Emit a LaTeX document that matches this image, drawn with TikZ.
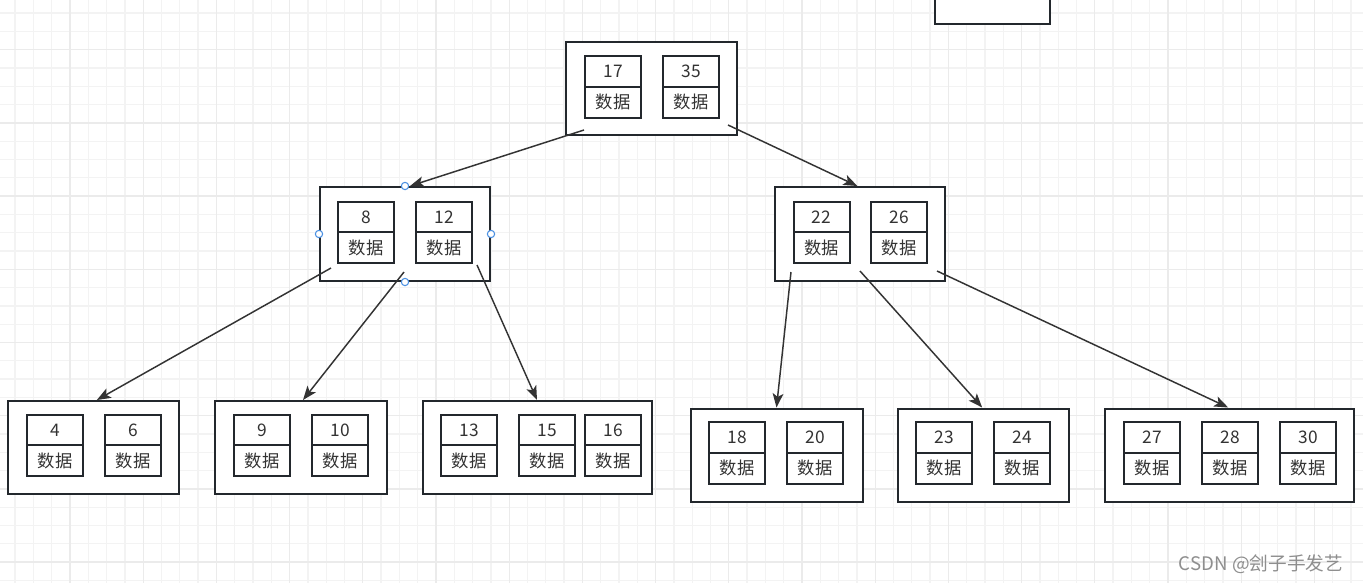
\documentclass[tikz,border=0pt]{standalone}
\usepackage{fontspec}
\setmainfont{Noto Sans CJK SC}
\usetikzlibrary{positioning,arrows.meta}
\definecolor{gridminor}{HTML}{F3F3F3}
\definecolor{gridmajor}{HTML}{EBEBEB}
\definecolor{boxline}{HTML}{23282D}
\definecolor{linkline}{HTML}{333333}
\definecolor{handleblue}{HTML}{4A90E2}
\definecolor{marktext}{HTML}{8E8E8E}
\begin{document}
\begin{tikzpicture}[x=0.75pt,y=-0.75pt,
	outerbox/.style={draw=boxline,line width=1.5pt,fill=white,minimum width=#1,minimum height=69.75pt,inner sep=0pt},
	outerbox/.default=128.25pt,
	keynum/.style={draw=boxline,line width=1.5pt,minimum width=42pt,minimum height=23pt,inner sep=0pt,outer sep=0pt,text=linkline,font=\fontsize{13}{15}\selectfont},
	keydat/.style={keynum},
	link/.style={draw=linkline,line width=1.1pt,-{Stealth[length=10.5pt,width=8pt,inset=2.5pt]}},
	handle/.style={draw=handleblue,line width=0.8pt,fill=white,circle,inner sep=0pt,minimum size=5.5pt}]
	\useasboundingbox (0,0) rectangle (1363,583);
	\fill[white] (0,0) rectangle (1363,583);
	\foreach \i [evaluate=\i as \x using 15.1+18.3*\i] in {0,...,73} \draw[gridminor,line width=1pt] (\x,0) -- (\x,583);
	\foreach \i [evaluate=\i as \y using 13.1+18.3*\i] in {0,...,31} \draw[gridminor,line width=1pt] (0,\y) -- (1363,\y);
	\foreach \i [evaluate=\i as \x using 70+73.2*\i] in {0,...,17} \draw[gridmajor,line width=1pt] (\x,0) -- (\x,583);
	\foreach \i [evaluate=\i as \y using 49.7+73.2*\i] in {0,...,7} \draw[gridmajor,line width=1pt] (0,\y) -- (1363,\y);

	\node[draw=boxline,line width=1.5pt,fill=white,minimum width=86.25pt,minimum height=30pt] (topbox) at (992.5,4) {};

	\node[outerbox] (root) at (651.5,88.5) {};
	\node[keynum] (k17) at (613,71.5) {17};
	\node[keydat,below=0pt of k17] (d17) {数据};
	\node[keynum] (k35) at (691,71.5) {35};
	\node[keydat,below=0pt of k35] (d35) {数据};

	\node[outerbox=127.5pt,minimum height=70.5pt] (midl) at (405,234) {};
	\node[keynum] (k8) at (366,217) {8};
	\node[keydat,below=0pt of k8] (d8) {数据};
	\node[keynum] (k12) at (444,217) {12};
	\node[keydat,below=0pt of k12] (d12) {数据};

	\node[outerbox=127.5pt,minimum height=70.5pt] (midr) at (860,234) {};
	\node[keynum] (k22) at (821.5,217) {22};
	\node[keydat,below=0pt of k22] (d22) {数据};
	\node[keynum] (k26) at (899,217) {26};
	\node[keydat,below=0pt of k26] (d26) {数据};

	\node[outerbox] (leaf4) at (93.5,447.5) {};
	\node[keynum] (k4) at (55,430) {4};
	\node[keydat,below=0pt of k4] (d4) {数据};
	\node[keynum] (k6) at (133,430) {6};
	\node[keydat,below=0pt of k6] (d6) {数据};

	\node[outerbox=129pt] (leaf9) at (301,447.5) {};
	\node[keynum] (k9) at (262,430) {9};
	\node[keydat,below=0pt of k9] (d9) {数据};
	\node[keynum] (k10) at (340,430) {10};
	\node[keydat,below=0pt of k10] (d10) {数据};

	\node[outerbox=171.75pt] (leaf13) at (537,447.5) {};
	\node[keynum] (k13) at (469,430) {13};
	\node[keydat,below=0pt of k13] (d13) {数据};
	\node[keynum] (k15) at (547,430) {15};
	\node[keydat,below=0pt of k15] (d15) {数据};
	\node[keynum] (k16) at (613,430) {16};
	\node[keydat,below=0pt of k16] (d16) {数据};

	\node[outerbox=129pt] (leaf18) at (776.5,455) {};
	\node[keynum] (k18) at (737,437.5) {18};
	\node[keydat,below=0pt of k18] (d18) {数据};
	\node[keynum] (k20) at (815,437.5) {20};
	\node[keydat,below=0pt of k20] (d20) {数据};

	\node[outerbox] (leaf23) at (983.5,455) {};
	\node[keynum] (k23) at (944,437.5) {23};
	\node[keydat,below=0pt of k23] (d23) {数据};
	\node[keynum] (k24) at (1022,437.5) {24};
	\node[keydat,below=0pt of k24] (d24) {数据};

	\node[outerbox=186.75pt] (leaf27) at (1229.5,455) {};
	\node[keynum] (k27) at (1152,437.5) {27};
	\node[keydat,below=0pt of k27] (d27) {数据};
	\node[keynum] (k28) at (1230,437.5) {28};
	\node[keydat,below=0pt of k28] (d28) {数据};
	\node[keynum] (k30) at (1308,437.5) {30};
	\node[keydat,below=0pt of k30] (d30) {数据};

	\coordinate (root-l) at (584,130);
	\coordinate (root-r) at (728,125);
	\coordinate (midl-a) at (331,268);
	\coordinate (midl-b) at (404,272);
	\coordinate (midl-c) at (477,265);
	\coordinate (midr-a) at (791,272);
	\coordinate (midr-b) at (860,271);
	\coordinate (midr-c) at (937,271);

	\draw[link] (root-l) -- ([xshift=3.75pt]midl.north);
	\draw[link] (root-r) -- ([xshift=-2pt]midr.north);
	\draw[link] (midl-a) -- ([xshift=2.5pt]leaf4.north);
	\draw[link] (midl-b) -- ([xshift=1.5pt]leaf9.north);
	\draw[link] (midl-c) -- (leaf13.north);
	\draw[link] (midr-a) -- (leaf18.north);
	\draw[link] (midr-b) -- ([xshift=-1pt]leaf23.north);
	\draw[link] (midr-c) -- ([xshift=-1pt]leaf27.north);

	\node[handle] (h-n) at (midl.north) {};
	\node[handle] (h-w) at (midl.west) {};
	\node[handle] (h-e) at (midl.east) {};
	\node[handle] (h-s) at (midl.south) {};

	\node[text=marktext,font=\fontsize{14}{16}\selectfont] (mark) at (1261,564) {CSDN @刽子手发艺};
\end{tikzpicture}
\end{document}
